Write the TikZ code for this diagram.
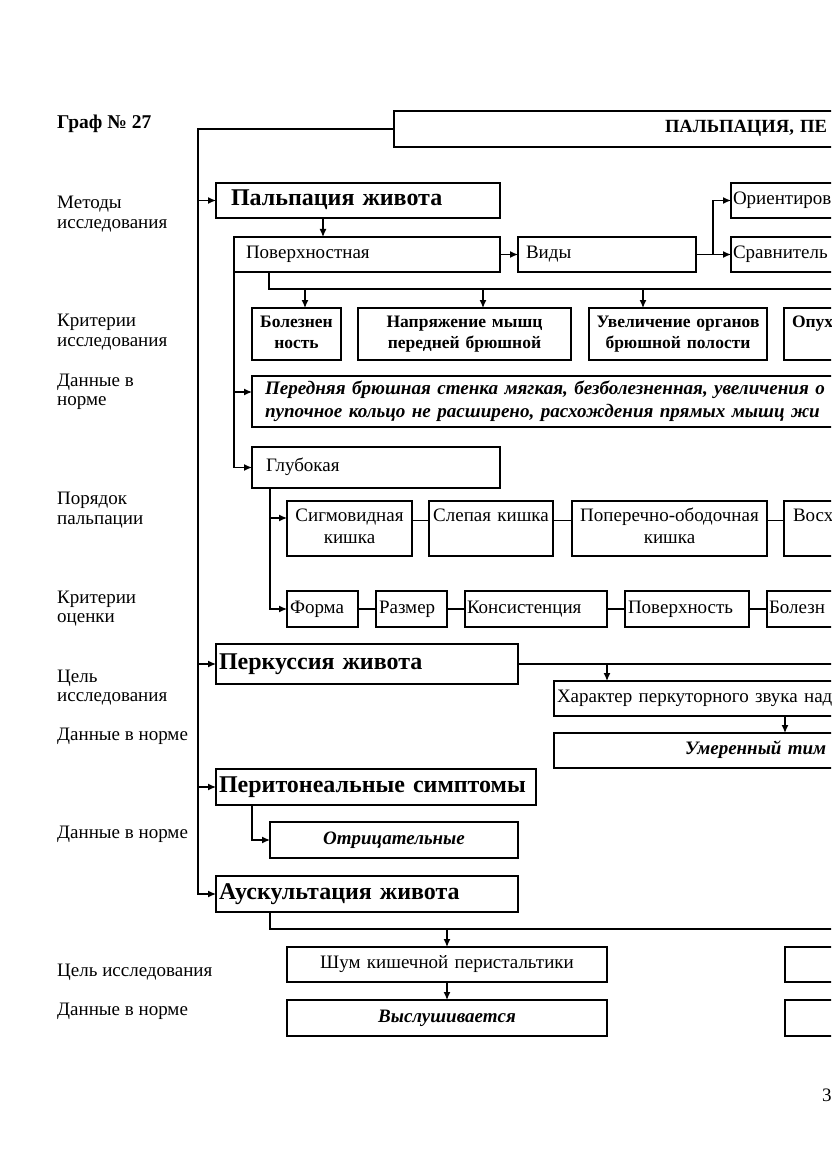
\documentclass[tikz,border=0pt]{standalone}
\usepackage{fontspec}
\setmainfont{Liberation Serif}
\usetikzlibrary{arrows.meta}
\newcommand\fRg{\fontsize{19}{22}\selectfont}
\newcommand\fLb{\fontsize{19}{19.5}\selectfont}
\newcommand\fHd{\fontsize{24}{26}\selectfont\bfseries}
\newcommand\fCr{\fontsize{17.5}{21}\selectfont\bfseries}
\newcommand\fBi{\fontsize{19}{22}\selectfont\bfseries\itshape}
\newcommand\fPb{\fontsize{19.1}{23}\selectfont\bfseries\itshape}
\newcommand\fTt{\fontsize{18.6}{20}\selectfont\bfseries}
\tikzset{
  bx/.style={draw, line width=1.5pt, anchor=north west, inner ysep=0pt, outer sep=0pt, font=\fRg,
    execute at begin node={\strut}, execute at end node={\strut}},
  L/.style n args={4}{minimum width=#1pt, minimum height=#2pt, inner xsep=#3pt, text width=#4pt, align=left},
  C/.style 2 args={minimum width=#1pt, minimum height=#2pt, inner xsep=0pt, text width=#1pt, align=center},
  ln/.style={line width=1.3pt},
  arr/.style={line width=1.3pt, -{Latex[length=8pt,width=7pt]}},
  lbl/.style={anchor=west, align=left, inner sep=0pt, font=\fLb},
}
\begin{document}
\begin{tikzpicture}[x=1pt,y=-1pt]
\useasboundingbox (0,0) rectangle (831,1174);
\fill[white] (0,0) rectangle (831,1174);
\clip (0,0) rectangle (831,1174);
\coordinate (T) at (198,0);
% left labels
\node[lbl, font=\fontsize{19.5}{20}\selectfont\bfseries] (l0) at (57,123.5) {Граф № 27};
\node[lbl] (l1) at (57,214) {Методы\\исследования};
\node[lbl] (l2) at (57,332) {Критерии\\исследования};
\node[lbl] (l3) at (57,392) {Данные в\\норме};
\node[lbl] (l4) at (57,510) {Порядок\\пальпации};
\node[lbl] (l5) at (57,608.5) {Критерии\\оценки};
\node[lbl] (l6) at (57,687.5) {Цель\\исследования};
\node[lbl] (l7) at (57,736) {Данные в норме};
\node[lbl] (l8) at (57,834) {Данные в норме};
\node[lbl] (l9) at (57,972) {Цель исследования};
\node[lbl] (l10) at (57,1011) {Данные в норме};
\node[lbl] (pg) at (822,1095) {3};
% boxes
\node[bx, L={900}{36}{271}{358}, font=\fTt] (top) at (394,111) {ПАЛЬПАЦИЯ, ПЕ};
\node[bx, L={284}{35}{15}{254}, font=\fHd] (palp) at (216,183) {Пальпация живота};
\node[bx, L={266}{35}{12}{242}] (pov) at (234,237) {Поверхностная};
\node[bx, L={178}{35}{8}{162}] (vidy) at (518,237) {Виды};
\node[bx, L={300}{35}{2}{296}] (orient) at (731,183) {Ориентиров};
\node[bx, L={300}{35}{2}{296}] (sravn) at (731,237) {Сравнитель};
\node[bx, C={89}{52}, font=\fCr] (bol) at (252,308) {Болезнен\\ность};
\node[bx, C={213}{52}, font=\fCr] (napr) at (358,308) {Напряжение мышц\\передней брюшной};
\node[bx, C={178}{52}, font=\fCr] (uvel) at (589,308) {Увеличение органов\\брюшной полости};
\node[bx, L={300}{52}{8}{284}, font=\fCr] (opuh) at (784,308) {Опух\\\phantom{ность}};
\node[bx, L={1000}{51}{13}{974}, font=\fPb] (peredn) at (252,376) {Передняя брюшная стенка мягкая, безболезненная, увеличения о\\пупочное кольцо не расширено, расхождения прямых мышц жи};
\node[bx, L={248}{41}{14}{220}] (glub) at (252,447) {Глубокая};
\node[bx, C={125}{55}] (sigm) at (287,501) {Сигмовидная\\кишка};
\node[bx, C={124}{55}] (slep) at (429,501) {Слепая кишка\\\phantom{кишка}};
\node[bx, C={195}{55}] (poper) at (572,501) {Поперечно-ободочная\\кишка};
\node[bx, L={300}{55}{9}{282}] (vosh) at (784,501) {Восх\\\phantom{кишка}};
\node[bx, L={71}{36}{3}{65}] (forma) at (287,591) {Форма};
\node[bx, L={71}{36}{3}{65}] (razmer) at (376,591) {Размер};
\node[bx, L={142}{36}{2}{138}] (konsist) at (465,591) {Консистенция};
\node[bx, L={124}{36}{3}{118}] (poverh) at (625,591) {Поверхность};
\node[bx, L={300}{36}{2}{296}] (bolezn) at (767,591) {Болезн};
\node[bx, L={302}{40}{3}{296}, font=\fHd] (perk) at (216,644) {Перкуссия живота};
\node[bx, L={400}{35}{3}{394}] (harakt) at (554,681) {Характер перкуторного звука над};
\node[bx, L={600}{35}{131}{338}, font=\fBi] (umer) at (554,733) {Умеренный тим};
\node[bx, L={320}{36}{3}{314}, font=\fHd] (perit) at (216,769) {Перитонеальные симптомы};
\node[bx, C={248}{36}, font=\fBi] (otric) at (270,822) {Отрицательные};
\node[bx, L={302}{36}{3}{296}, font=\fHd] (ausk) at (216,876) {Аускультация живота};
\node[bx, C={320}{35}] (shum) at (287,947) {Шум кишечной перистальтики};
\node[bx, C={320}{36}, font=\fBi] (vysl) at (287,1000) {Выслушивается};
\node[bx, minimum width=300pt, minimum height=35pt] (r1) at (785,947) {};
\node[bx, minimum width=300pt, minimum height=36pt] (r2) at (785,1000) {};
% trunk
\draw[arr] (top.west) -| (T |- ausk.west) -- (ausk.west);
\draw[arr] (T |- palp.west) -- (palp.west);
\draw[arr] (T |- perk.west) -- (perk.west);
\draw[arr] (T |- perit.west) -- (perit.west);
% palpation
\draw[arr] ([xshift=107pt]palp.south west) -- ([xshift=89pt]pov.north west);
\draw[arr] (pov.east) -- (vidy.west);
\coordinate (vb) at ([xshift=17pt]vidy.east);
\draw[ln] (vidy.east) -- (vb);
\draw[arr] (vb) |- (orient.west);
\draw[arr] (vb) -- (sravn.west);
\coordinate (pl) at (840,289);
\draw[ln] ([xshift=35pt]pov.south west) |- (pl);
\coordinate (c1) at ([xshift=53pt]bol.north west);
\coordinate (c2) at ([xshift=125pt]napr.north west);
\coordinate (c3) at ([xshift=54pt]uvel.north west);
\draw[arr] (c1 |- pl) -- (c1);
\draw[arr] (c2 |- pl) -- (c2);
\draw[arr] (c3 |- pl) -- (c3);
\draw[arr] (pov.south west) |- (glub.west);
\coordinate (pw) at ([yshift=9.5pt]peredn.west);
\draw[arr] (pov.south west |- pw) -- (pw);
\coordinate (g1) at ([xshift=18pt]glub.south west);
\draw[arr] (g1) |- (forma.west);
\coordinate (sw) at ([yshift=10.5pt]sigm.west);
\draw[arr] (g1 |- sw) -- (sw);
\draw[ln] ([yshift=8pt]sigm.east) -- ([yshift=8pt]slep.west);
\draw[ln] ([yshift=8pt]slep.east) -- ([yshift=8pt]poper.west);
\draw[ln] ([yshift=8pt]poper.east) -- ([yshift=8pt]vosh.west);
\draw[ln] (forma.east) -- (razmer.west);
\draw[ln] (razmer.east) -- (konsist.west);
\draw[ln] (konsist.east) -- (poverh.west);
\draw[ln] (poverh.east) -- (bolezn.west);
% percussion
\coordinate (kR) at (840,0);
\draw[ln] (perk.east) -- (perk.east -| kR);
\coordinate (k1) at ([xshift=53pt]harakt.north west);
\draw[arr] (k1 |- perk.east) -- (k1);
\coordinate (k2) at ([xshift=231pt]harakt.south west);
\draw[arr] (k2) -- (k2 |- umer.north);
% peritoneal
\draw[arr] ([xshift=36pt]perit.south west) |- (otric.west);
% auscultation
\coordinate (aR) at (840,929);
\draw[ln] ([xshift=54pt]ausk.south west) |- (aR);
\draw[arr] (shum.north |- aR) -- (shum.north);
\draw[arr] (shum.south) -- (vysl.north);
\end{tikzpicture}
\end{document}
